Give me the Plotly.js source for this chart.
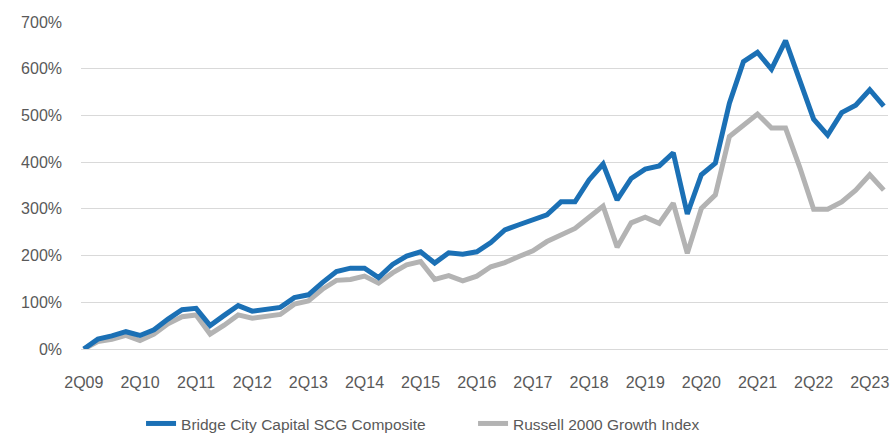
<!DOCTYPE html>
<html>
<head>
<meta charset="utf-8">
<script src="https://cdn.plot.ly/plotly-3.0.1.min.js"></script>
<style>
  html, body { margin: 0; padding: 0; background: #ffffff; }
  #chart { width: 892px; height: 433px; }
</style>
</head>
<body>
<div id="chart"></div>
<script>
// Quarter categories (2Q09 .. 3Q23)
const quarters = [
  "2Q09","3Q09","4Q09","1Q10","2Q10","3Q10","4Q10","1Q11","2Q11","3Q11","4Q11","1Q12",
  "2Q12","3Q12","4Q12","1Q13","2Q13","3Q13","4Q13","1Q14","2Q14","3Q14","4Q14","1Q15",
  "2Q15","3Q15","4Q15","1Q16","2Q16","3Q16","4Q16","1Q17","2Q17","3Q17","4Q17","1Q18",
  "2Q18","3Q18","4Q18","1Q19","2Q19","3Q19","4Q19","1Q20","2Q20","3Q20","4Q20","1Q21",
  "2Q21","3Q21","4Q21","1Q22","2Q22","3Q22","4Q22","1Q23","2Q23","3Q23"
];

// Cumulative return (%) - Bridge City Capital SCG Composite
const bridgeCity = [
  0, 21, 28, 37, 29, 41, 64, 84, 87, 50, 72, 93,
  81, 86, 89, 110, 116, 142, 166, 173, 173, 153, 181, 199,
  208, 184, 206, 203, 208, 228, 255, 266, 277, 287, 315, 315,
  362, 396, 319, 365, 385, 392, 420, 289, 373, 398, 526, 615,
  635, 599, 660, 576, 492, 458, 506, 522, 555, 520
];

// Cumulative return (%) - Russell 2000 Growth Index
const russell = [
  0, 16, 21, 29, 18, 32, 54, 69, 73, 32, 51, 73,
  66, 71, 74, 96, 103, 128, 147, 149, 156, 141, 163, 180,
  187, 149, 157, 146, 156, 176, 185, 198, 210, 230, 244, 258,
  282, 306, 218, 270, 282, 269, 312, 205, 301, 330, 455, 480,
  503, 473, 473, 390, 299, 299, 315, 340, 373, 340
];

// Tick labels shown on the x axis
const tickLabels = ["2Q09","2Q10","2Q11","2Q12","2Q13","2Q14","2Q15","2Q16",
                    "2Q17","2Q18","2Q19","2Q20","2Q21","2Q22","2Q23"];
const yTicks = [0, 100, 200, 300, 400, 500, 600, 700];

const xIdx = quarters.map((q, i) => i);
const tickVals = tickLabels.map(l => quarters.indexOf(l));

const traces = [
  {
    x: xIdx, y: russell, type: 'scatter', mode: 'lines',
    name: 'Russell 2000 Growth Index',
    text: quarters, hovertemplate: '%{text}: %{y}%<extra></extra>',
    line: { color: '#b3b3b3', width: 5 },
    legendrank: 2
  },
  {
    x: xIdx, y: bridgeCity, type: 'scatter', mode: 'lines',
    name: 'Bridge City Capital SCG Composite',
    text: quarters, hovertemplate: '%{text}: %{y}%<extra></extra>',
    line: { color: '#1b70b5', width: 5 },
    legendrank: 1
  }
];

const layout = {
  width: 892, height: 433,
  margin: { l: 81, r: 4, t: 22, b: 84, autoexpand: false },
  paper_bgcolor: '#ffffff', plot_bgcolor: '#ffffff',
  font: { family: 'Liberation Sans, Arial, sans-serif', size: 16, color: '#595959' },
  showlegend: true,
  legend: {
    orientation: 'h', x: 0.0744, xanchor: 'left', y: -0.177, yanchor: 'top',
    entrywidth: 287, entrywidthmode: 'pixels',
    font: { size: 15.5, color: '#595959' }, bgcolor: 'rgba(0,0,0,0)'
  },
  xaxis: {
    range: [-0.2, 57.3],
    tickmode: 'array', tickvals: tickVals, ticktext: tickLabels,
    showgrid: false, zeroline: false, showline: false, ticks: '',
    ticklabelstandoff: 22,
    tickfont: { size: 16, color: '#595959' },
    fixedrange: true
  },
  yaxis: {
    range: [0, 700],
    tickmode: 'array', tickvals: yTicks, ticktext: yTicks.map(v => v + '%'),
    showgrid: true, gridcolor: '#d9d9d9', gridwidth: 1,
    zeroline: true, zerolinecolor: '#d9d9d9', zerolinewidth: 1,
    showline: false, ticks: '',
    ticklabelstandoff: 18,
    tickfont: { size: 16, color: '#595959' },
    fixedrange: true
  }
};

Plotly.newPlot('chart', traces, layout, { displayModeBar: false, staticPlot: true });
</script>
</body>
</html>
